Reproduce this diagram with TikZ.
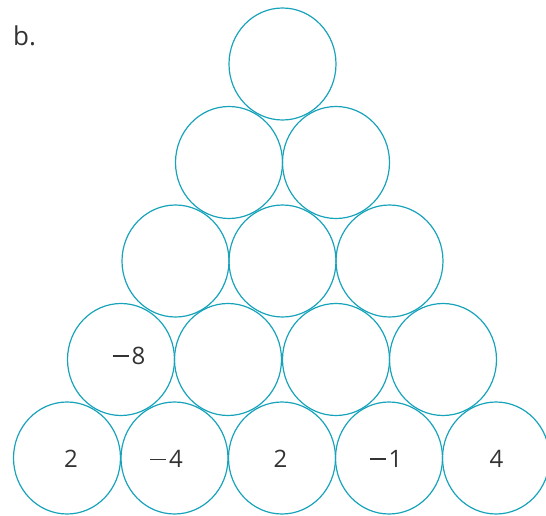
\documentclass[tikz,border=0pt]{standalone}
\usepackage{fontspec}
\setmainfont{Open Sans}
\usetikzlibrary{shapes.geometric}
\definecolor{ringcol}{RGB}{24,163,187}
\definecolor{txtcol}{RGB}{51,51,51}
\newcommand{\mnsign}{\rule[7.8pt]{16pt}{1.3pt}\hspace{3pt}}
\begin{document}
\begin{tikzpicture}[x=1pt,y=-1pt,
  cell/.style={draw=ringcol, line width=1.2pt, ellipse, minimum width=107pt, minimum height=112pt, inner sep=0pt, outer sep=0pt},
  num/.style={text=txtcol, font=\fontsize{24}{28}\selectfont, inner sep=0pt},
  lbl/.style={text=txtcol, font=\fontsize{26}{30}\selectfont, inner sep=0pt, anchor=base west}]
\useasboundingbox (0,0) rectangle (546,516);
% row 1
\node[cell] (c11) at (282.5,64) {};
% row 2
\node[cell] (c21) at (229,162.5) {};
\node[cell] (c22) at (336,162.5) {};
% row 3
\node[cell] (c31) at (175.5,261) {};
\node[cell] (c32) at (282.5,261) {};
\node[cell] (c33) at (389.5,261) {};
% row 4
\node[cell] (c41) at (121,359.5) {};
\node[cell] (c42) at (228,359.5) {};
\node[cell] (c43) at (336,359.5) {};
\node[cell] (c44) at (443,359.5) {};
% row 5
\node[cell] (c51) at (67,458) {};
\node[cell] (c52) at (174.5,458) {};
\node[cell] (c53) at (282,458) {};
\node[cell] (c54) at (389,458) {};
\node[cell] (c55) at (496,458) {};
% numbers
\node[num] (n41) at (129,356) {\mnsign 8};
\node[num] (n51) at (71,459) {2};
\node[num] (n52) at (166.5,459) {\mnsign 4};
\node[num] (n53) at (280.5,459) {2};
\node[num] (n54) at (386,459) {\mnsign 1};
\node[num] (n55) at (496.5,459) {4};
% label
\node[lbl] (lab) at (13,46) {b.};
\end{tikzpicture}
\end{document}
